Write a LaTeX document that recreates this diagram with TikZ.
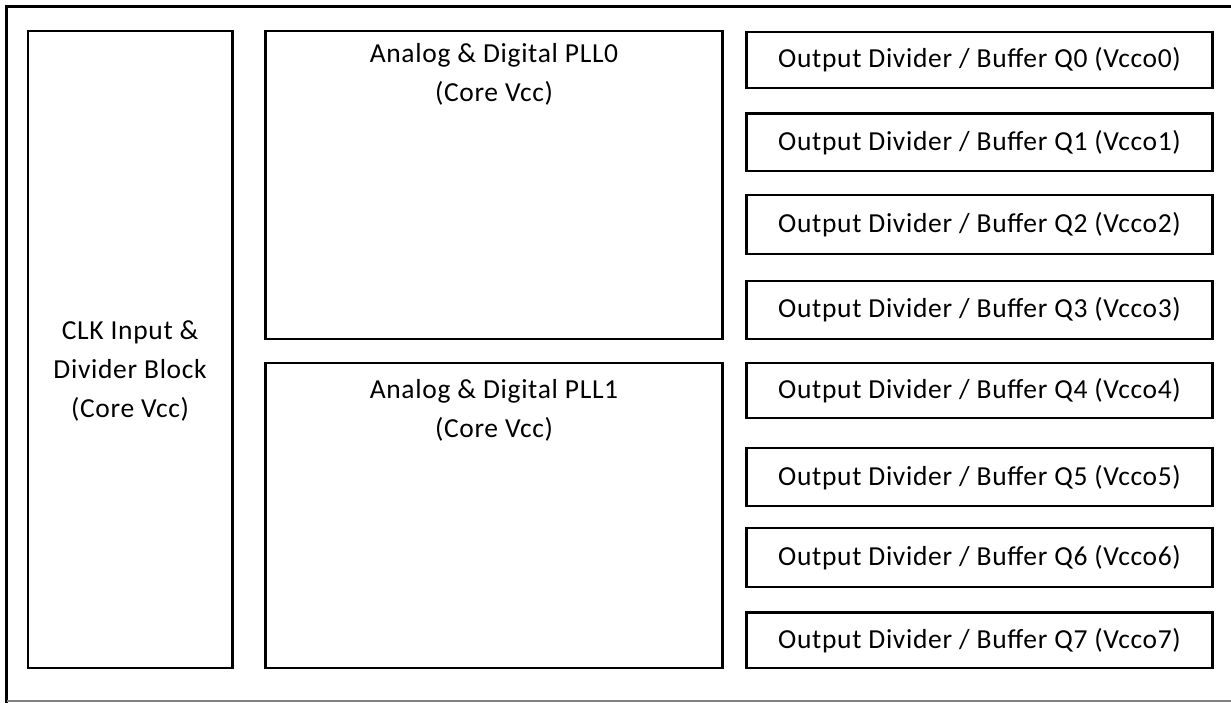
\documentclass[tikz,border=0pt]{standalone}
\usepackage{fontspec}
\setmainfont{Carlito}[LetterSpace=2.5]
\begin{document}
\begin{tikzpicture}[x=1pt,y=-1pt,
  blk/.style={draw=black, line width=2.2pt, rectangle, inner sep=0pt},
  txt/.style={font=\fontsize{27.5}{39}\selectfont, align=center, inner sep=0pt, text=black}]
\useasboundingbox (0,0) rectangle (1231,702);
% outer frame
\draw[line width=3pt, line cap=rect] (1231,6.5) -- (6.5,6.5) -- (6.5,702);
\draw[line width=1.5pt, color=black!50] (6.5,700.8) -- (1231,700.8);
% CLK block
\node[blk, minimum width=204.8pt, minimum height=637pt] (clk) at (130.1,349.5) {};
\node[txt, anchor=base] (clkt) at (130.1,417) {CLK Input \&\\Divider Block\\(Core Vcc)};
% PLL blocks
\node[blk, minimum width=457pt, minimum height=308pt] (pll0) at (494,185) {};
\node[txt, anchor=base] (pll0t) at (494,101) {Analog \& Digital PLL0\\(Core Vcc)};
\node[blk, minimum width=457pt, minimum height=305pt] (pll1) at (494,515.5) {};
\node[txt, anchor=base] (pll1t) at (494,437) {Analog \& Digital PLL1\\(Core Vcc)};
% output blocks
\foreach \i/\t/\b in {0/32/88.3, 1/113.5/171, 2/195/254.3, 3/281/339, 4/363.3/418.3, 5/448.3/506, 6/528/587, 7/612.5/668.2}{
  \node[blk, minimum width=466pt, minimum height={\b-\t}, font=\fontsize{27.5}{39}\selectfont]
    (q\i) at (979.5,{(\t+\b)/2}) {Output Divider / Buffer Q\i{} (Vcco\i)};
}
\end{tikzpicture}
\end{document}
